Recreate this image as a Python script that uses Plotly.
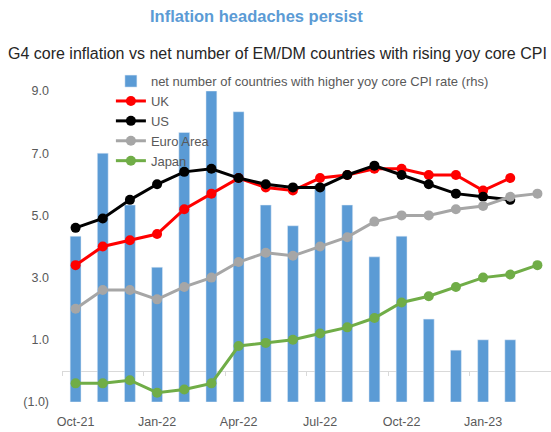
import plotly.graph_objects as go

months = ["Oct-21", "Nov-21", "Dec-21", "Jan-22", "Feb-22", "Mar-22", "Apr-22", "May-22",
          "Jun-22", "Jul-22", "Aug-22", "Sep-22", "Oct-22", "Nov-22", "Dec-22", "Jan-23",
          "Feb-23", "Mar-23"]

net_countries = [16, 24, 19, 13, 26, 30, 28, 19, 17, 21, 19, 14, 16, 8, 5, 6, 6, None]
uk = [3.4, 4.0, 4.2, 4.4, 5.2, 5.7, 6.2, 5.9, 5.8, 6.2, 6.3, 6.5, 6.5, 6.3, 6.3, 5.8, 6.2, None]
us = [4.6, 4.9, 5.5, 6.0, 6.4, 6.5, 6.2, 6.0, 5.9, 5.9, 6.3, 6.6, 6.3, 6.0, 5.7, 5.6, 5.5, None]
euro = [2.0, 2.6, 2.6, 2.3, 2.7, 3.0, 3.5, 3.8, 3.7, 4.0, 4.3, 4.8, 5.0, 5.0, 5.2, 5.3, 5.6, 5.7]
japan = [-0.4, -0.4, -0.3, -0.7, -0.6, -0.4, 0.8, 0.9, 1.0, 1.2, 1.4, 1.7, 2.2, 2.4, 2.7, 3.0, 3.1, 3.4]

left_ticks = [-1, 1, 3, 5, 7, 9]
left_range = [-1, 9]
right_range = [0, 30]
label_every = 3


def fmt(v):
    return f"({abs(v):.1f})" if v < 0 else f"{v:.1f}"


FONT = "Liberation Sans, Arial, sans-serif"
GRAY_TXT = "#595959"
AXIS_GRAY = "#d9d9d9"

idx = list(range(len(months)))

fig = go.Figure()
fig.add_trace(go.Bar(
    x=idx, y=net_countries, name="net number of countries with higher yoy core CPI rate (rhs)",
    marker=dict(color="#5B9BD5"), width=0.4, xaxis="x", yaxis="y",
))

series = [("UK", uk, "#FF0000"), ("US", us, "#000000"),
          ("Euro Area", euro, "#A6A6A6"), ("Japan", japan, "#70AD47")]
for name, vals, col in series:
    fig.add_trace(go.Scatter(
        x=idx, y=vals, name=name, mode="lines+markers",
        line=dict(color=col, width=3), marker=dict(color=col, size=10),
        xaxis="x", yaxis="y2",
    ))

# dummy trace to host the axis drawn through zero
fig.add_trace(go.Scatter(x=[idx[0]], y=[None], xaxis="x2", yaxis="y2", mode="none",
                         showlegend=False, hoverinfo="skip"))

xr = [idx[0] - 0.5, idx[-1] + 0.5]
zero_pos = (0 - left_range[0]) / (left_range[1] - left_range[0])

fig.update_layout(
    width=551, height=432,
    margin=dict(l=62, r=0, t=91, b=30),
    paper_bgcolor="white", plot_bgcolor="white",
    font=dict(family=FONT, color=GRAY_TXT, size=12.5),
    showlegend=True,
    legend=dict(x=0.1, y=1.08, xanchor="left", yanchor="top",
                bgcolor="rgba(0,0,0,0)", font=dict(size=13, color=GRAY_TXT),
                itemwidth=30, tracegroupgap=0),
    xaxis=dict(range=xr, tickmode="array", tickvals=idx[::label_every],
               ticktext=months[::label_every], showgrid=False, zeroline=False,
               showline=False, ticks="", ticklabelstandoff=10,
               tickfont=dict(size=12.5, color=GRAY_TXT)),
    xaxis2=dict(overlaying="x", anchor="free", position=zero_pos, range=xr,
                tickmode="array", tickvals=[i - 0.5 for i in idx[::label_every]],
                showticklabels=False, ticks="outside", ticklen=4, tickcolor=AXIS_GRAY,
                showline=True, linecolor=AXIS_GRAY, linewidth=1, showgrid=False,
                zeroline=False, layer="below traces"),
    yaxis=dict(range=right_range, visible=False, showgrid=False, zeroline=False),
    yaxis2=dict(overlaying="y", side="left", range=left_range, tickmode="array",
                tickvals=left_ticks, ticktext=[fmt(v) for v in left_ticks],
                showgrid=False, zeroline=False, showline=False, ticks="",
                ticklabelstandoff=12, tickfont=dict(size=12.5, color=GRAY_TXT)),
    barmode="overlay",
    annotations=[
        dict(text="<b>Inflation headaches persist</b>", xref="paper", yref="paper",
             x=0.397, y=1.241, xanchor="center", yanchor="middle", showarrow=False,
             font=dict(family=FONT, size=16.5, color="#5B9BD5")),
        dict(text="G4 core inflation vs net number of EM/DM countries with rising yoy core CPI",
             xref="paper", yref="paper", x=0.441, y=1.122, xanchor="center", yanchor="middle",
             showarrow=False, font=dict(family=FONT, size=16, color="#262626")),
    ],
)

fig.write_html("out.html", config={"displayModeBar": False},
               post_script="document.body.style.margin='0';")
